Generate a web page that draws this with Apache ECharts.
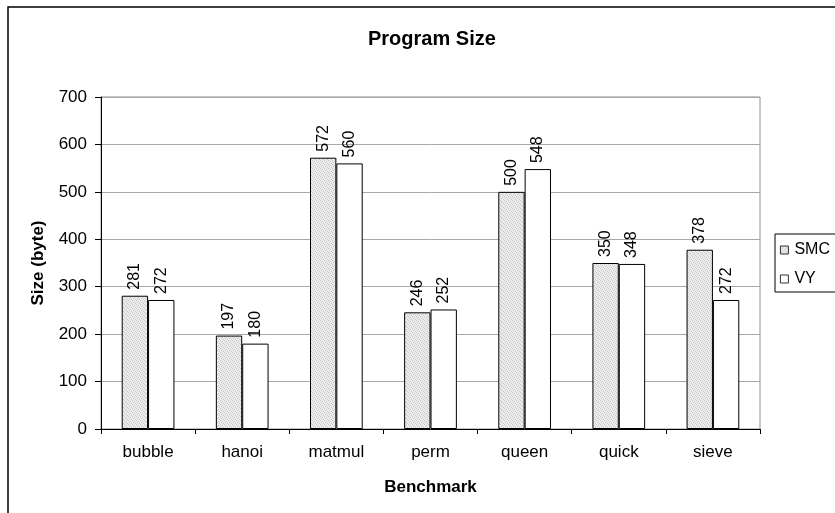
<!DOCTYPE html>
<html>
<head>
<meta charset="utf-8">
<script src="https://cdn.jsdelivr.net/npm/echarts@6/dist/echarts.min.js"></script>
<style>
  html, body { margin: 0; padding: 0; background: #fff; }
  #chart { width: 835px; height: 513px; }
</style>
</head>
<body>
<div id="chart"></div>
<script>
// Benchmark program sizes (bytes)
const categories = ['bubble', 'hanoi', 'matmul', 'perm', 'queen', 'quick', 'sieve'];
const smcValues = [281, 197, 572, 246, 500, 350, 378];
const vyValues = [272, 180, 560, 252, 548, 348, 272];
const yTicks = [0, 100, 200, 300, 400, 500, 600, 700];

// Stippled grey fill for the SMC bars
function makeStipple() {
  const c = document.createElement('canvas');
  c.width = 4; c.height = 4;
  const ctx = c.getContext('2d');
  ctx.fillStyle = '#ececec';
  ctx.fillRect(0, 0, 4, 4);
  ctx.fillStyle = '#c6c6c6';
  ctx.fillRect(0, 0, 1, 1);
  ctx.fillRect(2, 1, 1, 1);
  ctx.fillRect(1, 2, 1, 1);
  ctx.fillRect(3, 3, 1, 1);
  return c;
}
const stipple = { image: makeStipple(), repeat: 'repeat' };

const font = "'Liberation Sans', Arial, sans-serif";
const chart = echarts.init(document.getElementById('chart'), null, { renderer: 'canvas' });

const labelCfg = {
  show: true,
  position: 'top',
  rotate: 90,
  align: 'left',
  verticalAlign: 'middle',
  distance: 6,
  color: '#000',
  fontFamily: font,
  fontSize: 16
};

chart.setOption({
  animation: false,
  backgroundColor: '#fff',
  graphic: [{
    type: 'rect',
    shape: { x: 8, y: 7, width: 900, height: 600 },
    style: { fill: 'none', stroke: '#000', lineWidth: 1.5 },
    z: 100
  }],
  title: {
    text: 'Program Size',
    left: 363,
    top: 24,
    textStyle: { fontFamily: font, fontSize: 20, fontWeight: 'bold', color: '#000' }
  },
  legend: {
    orient: 'vertical',
    left: 775,
    top: 234,
    padding: [8, 40, 5, 5],
    borderColor: '#000',
    borderWidth: 1,
    itemWidth: 8,
    itemHeight: 8,
    itemGap: 13,
    icon: 'rect',
    itemStyle: { borderWidth: 0.8 },
    textStyle: { fontFamily: font, fontSize: 16, color: '#000', lineHeight: 16, padding: [0, 0, 0, 1] },
    data: ['SMC', 'VY']
  },
  grid: {
    left: 101, right: 75, top: 97, bottom: 84,
    show: true, borderColor: '#909090', borderWidth: 1
  },
  xAxis: {
    type: 'category',
    data: categories,
    name: 'Benchmark',
    nameLocation: 'middle',
    nameGap: 50,
    nameTextStyle: { fontFamily: font, fontSize: 17, fontWeight: 'bold', color: '#000' },
    axisLine: { lineStyle: { color: '#000', width: 1 } },
    axisTick: { show: true, length: 5, lineStyle: { color: '#000' } },
    axisLabel: { fontFamily: font, fontSize: 17, color: '#000', margin: 15 }
  },
  yAxis: {
    type: 'value',
    min: yTicks[0],
    max: yTicks[yTicks.length - 1],
    interval: 100,
    name: 'Size (byte)',
    nameLocation: 'middle',
    nameGap: 54,
    nameTextStyle: { fontFamily: font, fontSize: 17, fontWeight: 'bold', color: '#000' },
    axisLine: { show: true, lineStyle: { color: '#000', width: 1 } },
    axisTick: { show: true, length: 6, lineStyle: { color: '#000' } },
    axisLabel: { fontFamily: font, fontSize: 17, color: '#000', margin: 14 },
    splitLine: { show: true, lineStyle: { color: '#a8a8a8', width: 1 } }
  },
  series: [
    {
      name: 'SMC',
      type: 'bar',
      data: smcValues,
      barGap: '0%',
      barCategoryGap: '44%',
      itemStyle: { color: stipple, borderColor: '#000', borderWidth: 1 },
      label: labelCfg
    },
    {
      name: 'VY',
      type: 'bar',
      data: vyValues,
      itemStyle: { color: '#fff', borderColor: '#000', borderWidth: 1 },
      label: labelCfg
    }
  ]
});
</script>
</body>
</html>
